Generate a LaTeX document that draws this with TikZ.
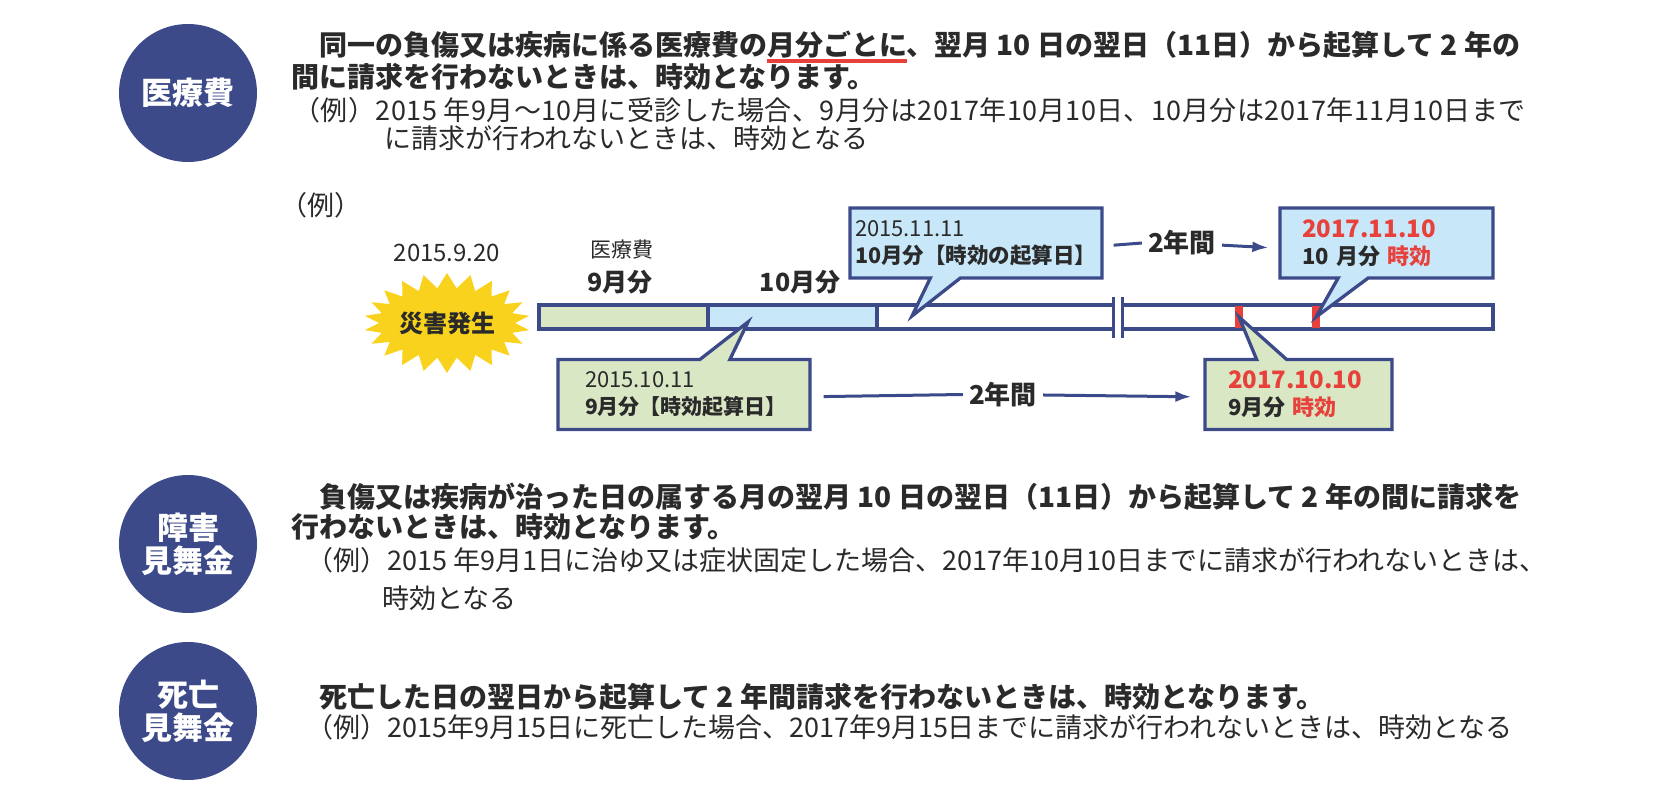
\documentclass[tikz,border=0pt]{standalone}
\usepackage{fontspec}
\setmainfont{Noto Sans CJK JP}
\usetikzlibrary{positioning,arrows.meta,shapes.symbols,shapes.callouts}

\definecolor{navy}{HTML}{3C4A8A}
\definecolor{ink}{HTML}{2A2A2A}
\definecolor{alert}{HTML}{E8413C}
\definecolor{paleg}{HTML}{D9E7C4}
\definecolor{paleb}{HTML}{C8E8F9}
\definecolor{sun}{HTML}{F9D21E}

\tikzset{
  badge/.style={circle, fill=navy, minimum size=138pt, inner sep=0pt, align=center, text=white, font=\fontsize{31}{33}\selectfont\bfseries},
  head/.style={anchor=west, inner sep=0pt, text=ink, font=\fontsize{28}{32}\selectfont\bfseries},
  note/.style={anchor=west, inner sep=0pt, text=ink, font=\fontsize{27}{30}\selectfont},
  seg/.style={draw=navy, line width=3.3pt, minimum height=24pt, inner sep=0pt, outer sep=0pt, anchor=west},
  expiry/.style={fill=alert, minimum width=8pt, minimum height=22pt, inner sep=0pt},
  tag/.style={rectangle callout, draw=navy, line width=3.3pt, callout pointer width=30pt, minimum height=70pt, inner ysep=0pt, align=left, text=ink, font=\fontsize{22}{27}\selectfont},
  lapse/.style={navy, line width=3pt},
  gap/.style={text=ink, inner xsep=6pt, font=\fontsize{26}{28}\selectfont\bfseries},
}

\begin{document}
\begin{tikzpicture}[x=1pt, y=-1pt]
 \useasboundingbox (0,0) rectangle (1654,805);

 % 医療費
 \node[badge] (b1) at (188,93) {医療費};
 \node[head] (h1a) at (291,45) {　同一の負傷又は疾病に係る医療費の\rlap{\smash{\color{alert}\rule[-0.25em]{5em}{0.13em}}}月分ごとに、翌月 10 日の翌日（11日）から起算して 2 年の};
 \node[head] (h1b) at (291,77) {間に請求を行わないときは、時効となります。};
 \node[note, font=\fontsize{27}{30}\selectfont\addfontfeature{LetterSpace=1.8}] (n1a) at (293,110) {（例）2015 年9月～10月に受診した場合、9月分は2017年10月10日、10月分は2017年11月10日まで};
 \node[note] (n1b) at (384,138) {に請求が行われないときは、時効となる};

 % timeline
 \node[note] (ex) at (280,205) {（例）};
 \node[note, anchor=center, font=\fontsize{24}{26}\selectfont] (d0) at (447,253) {2015.9.20};
 \node[starburst, starburst points=22, starburst point height=15pt, random starburst=0, fill=sun, minimum width=166pt, minimum height=100pt, inner sep=0pt, text=ink, font=\fontsize{24}{26}\selectfont\bfseries] (evt) at (447,323) {災害発生};
 \node[note, anchor=center, font=\fontsize{21}{24}\selectfont] (lab) at (622,250) {医療費};
 \node[gap, font=\fontsize{25}{28}\selectfont\bfseries] (m9) at (620,282) {9月分};
 \node[gap, font=\fontsize{25}{28}\selectfont\bfseries] (m10) at (800,282) {10月分};

 \node[seg, fill=paleg, minimum width=169pt] (s9) at (539,317) {};
 \node[seg, fill=paleb, minimum width=169pt, right=0pt of s9] (s10) {};
 \node[seg, fill=white, minimum width=616pt, right=0pt of s10] (rest) {};
 \fill[white] (1113,296) rectangle (1122,338);
 \draw[navy, line width=3pt] (1113,297) -- (1113,338) (1122,297) -- (1122,338);
 \node[expiry] (x9) at (1239,317) {};
 \node[expiry] (x10) at (1316,317) {};

 \node[tag, fill=paleg, text width=198pt, inner xsep=27pt, callout absolute pointer={(748,322)}] (c1) at (684,394.5) {2015.10.11\\{\fontsize{21}{27}\selectfont\bfseries 9月分【時効起算日】}};
 \node[tag, fill=paleb, text width=242pt, inner xsep=5pt, callout absolute pointer={(912,316)}] (c2) at (976,243) {2015.11.11\\{\fontsize{21.5}{27}\selectfont\bfseries 10月分【時効の起算日】}};
 \node[tag, fill=paleg, text width=141pt, inner xsep=23pt, callout absolute pointer={(x9.center)}] (c3) at (1298.5,394.5) {{\fontsize{24}{27}\selectfont\bfseries\color{alert}2017.10.10}\\{\bfseries 9月分 \textcolor{alert}{時効}}};
 \node[tag, fill=paleb, text width=169pt, inner xsep=22pt, callout absolute pointer={(x10.center)}] (c4) at (1386.5,243) {{\fontsize{24}{27}\selectfont\bfseries\color{alert}2017.11.10}\\{\bfseries 10 月分 \textcolor{alert}{時効}}};

 \node[gap] (t1) at (1182,243) {2年間};
 \node[gap] (t2) at (1003,394.5) {2年間};
 \draw[lapse, shorten <=10pt] (c2) -- (t1);
 \draw[lapse, -{Latex[length=16pt,width=11pt]}, shorten >=10pt] (t1) -- (c4);
 \draw[lapse, shorten <=12pt] (c1) -- (t2);
 \draw[lapse, -{Latex[length=16pt,width=11pt]}, shorten >=12pt] (t2) -- (c3);

 % 障害見舞金
 \node[badge] (b2) at (188,544) {障害\\見舞金};
 \node[head] (h2a) at (291,497) {　負傷又は疾病が治った日の属する月の翌月 10 日の翌日（11日）から起算して 2 年の間に請求を};
 \node[head] (h2b) at (291,527) {行わないときは、時効となります。};
 \node[note] (n2a) at (306,560) {（例）2015 年9月1日に治ゆ又は症状固定した場合、2017年10月10日までに請求が行われないときは、};
 \node[note] (n2b) at (382,598) {時効となる};

 % 死亡見舞金
 \node[badge] (b3) at (188,711) {死亡\\見舞金};
 \node[head] (h3a) at (291,697) {　死亡した日の翌日から起算して 2 年間請求を行わないときは、時効となります。};
 \node[note] (n3a) at (306,727) {（例）2015年9月15日に死亡した場合、2017年9月15日までに請求が行われないときは、時効となる};
\end{tikzpicture}
\end{document}
